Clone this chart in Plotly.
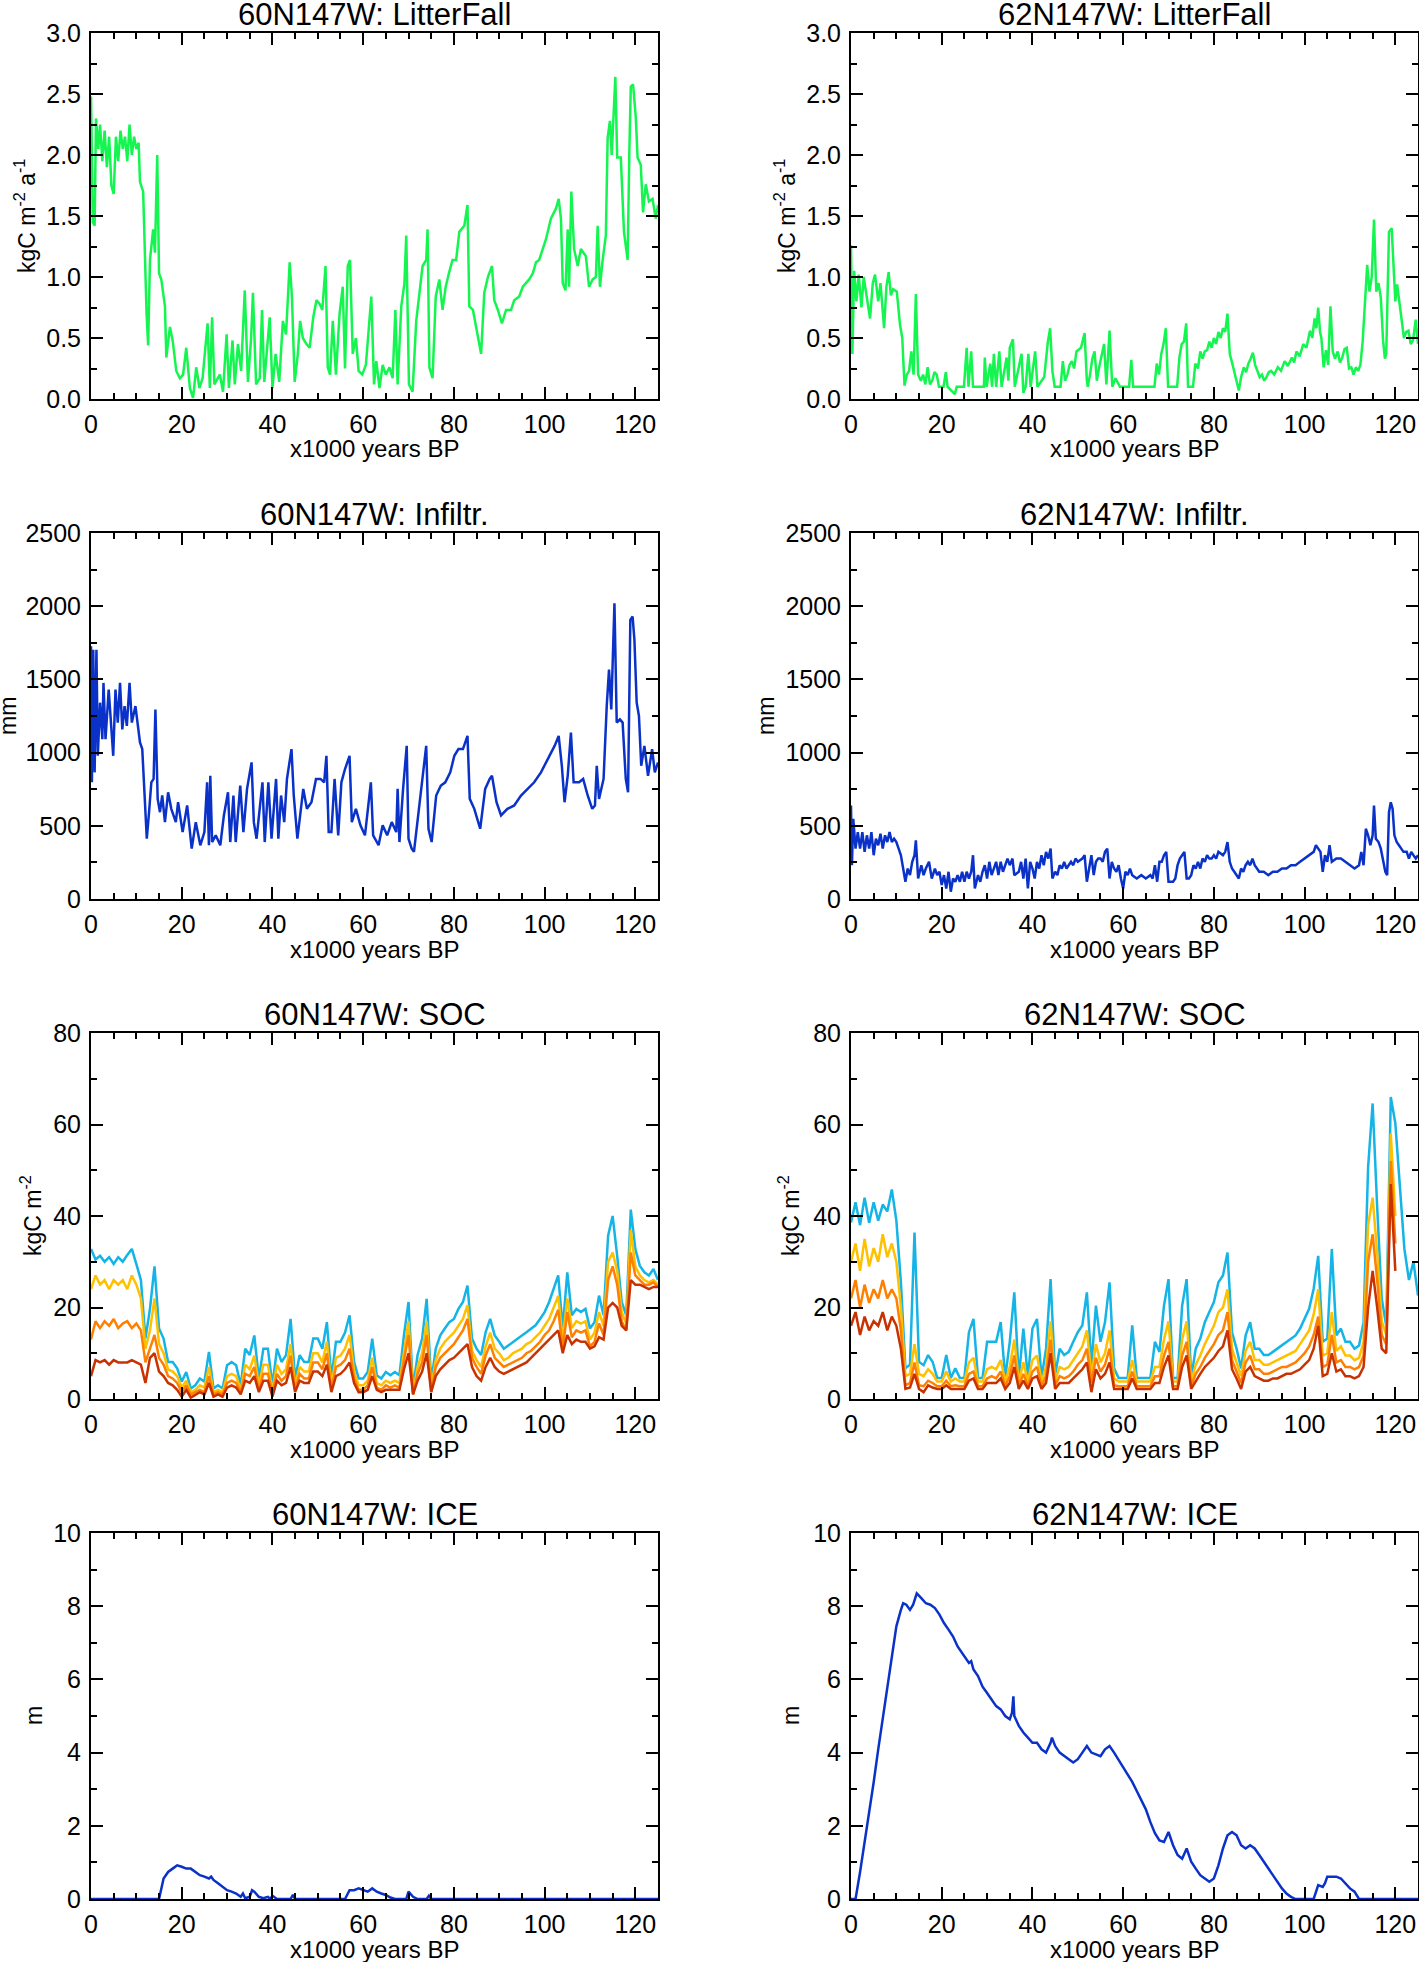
import plotly.graph_objects as go

FONT = "Liberation Sans, Arial, Helvetica, sans-serif"
W, H = 1419, 1962

GREEN = "#14f550"
BLUE = "#0a32c8"
SOC_COLORS = ["#14b4e6", "#ffc000", "#ff8000", "#c83200"]

# ---------------- data (x in 1000 years BP) ----------------
# litter fall, kgC m-2 a-1
lf60 = [(0, 2.48), (0.4, 1.45), (0.8, 1.42), (1.1, 2.30), (1.6, 2.05), (2.0, 2.25), (2.5, 1.95), (3.0, 2.2),
        (3.5, 1.9), (4.0, 2.15), (4.5, 1.75), (5.0, 1.68), (5.5, 2.15), (6.0, 1.95), (6.5, 2.2), (7.0, 2.05),
        (7.5, 2.15), (8.0, 1.95), (8.5, 2.25), (9.0, 2.0), (9.5, 2.15), (10.0, 2.05), (10.5, 2.1), (10.8, 1.78),
        (11.5, 1.70), (11.8, 1.23), (12.25, 0.70), (12.6, 0.44), (13.0, 1.14), (13.7, 1.39), (14.1, 1.20),
        (14.6, 2.0), (15.0, 1.03), (15.5, 0.98), (16.3, 0.76), (16.6, 0.34), (17.4, 0.59), (18.0, 0.48),
        (18.8, 0.23), (19.6, 0.17), (20.3, 0.20), (21.0, 0.42), (21.8, 0.09), (22.5, 0.01), (23.2, 0.26),
        (23.9, 0.09), (24.6, 0.17), (25.7, 0.62), (26.2, 0.09), (26.7, 0.67), (27.2, 0.12), (28.4, 0.20),
        (29.1, 0.06), (29.9, 0.53), (30.4, 0.09), (31.2, 0.48), (31.7, 0.12), (32.4, 0.45), (33.1, 0.23),
        (33.9, 0.89), (34.6, 0.14), (35.3, 0.50), (35.7, 0.87), (36.4, 0.12), (37.2, 0.17), (37.7, 0.73),
        (38.2, 0.14), (39.4, 0.67), (40.0, 0.09), (40.7, 0.37), (41.5, 0.14), (42.3, 0.64), (43.0, 0.53),
        (43.8, 1.12), (44.3, 0.84), (44.9, 0.14), (45.6, 0.37), (46.1, 0.64), (46.7, 0.50), (47.5, 0.45),
        (48.2, 0.42), (49.0, 0.67), (49.7, 0.81), (50.4, 0.78), (51.0, 0.73), (51.7, 1.09), (52.2, 0.26),
        (52.7, 0.20), (53.3, 0.64), (54.0, 0.20), (54.8, 0.70), (55.5, 0.92), (56.0, 0.25), (56.6, 1.09),
        (57.1, 1.14), (57.7, 0.37), (58.4, 0.50), (59.0, 0.23), (59.8, 0.2), (60.6, 0.28), (61.8, 0.84),
        (62.4, 0.12), (62.9, 0.31), (63.6, 0.09), (64.3, 0.28), (65.0, 0.2), (65.8, 0.26), (66.5, 0.17),
        (67.1, 0.73), (67.6, 0.12), (68.4, 0.76), (69.1, 0.95), (69.5, 1.34), (70.1, 0.12), (70.9, 0.06),
        (71.7, 0.64), (72.4, 0.87), (73.1, 1.09), (73.9, 1.14), (74.2, 1.39), (74.6, 0.26), (75.3, 0.17),
        (76.0, 0.84), (76.8, 0.98), (77.5, 0.73), (78.2, 0.92), (78.9, 1.03), (79.7, 1.14), (80.5, 1.14),
        (81.2, 1.37), (82.3, 1.42), (83.0, 1.59), (83.4, 0.76), (84.2, 0.73), (84.9, 0.59), (86.0, 0.37),
        (86.7, 0.87), (87.5, 1.0), (88.4, 1.09), (88.9, 0.81), (89.7, 0.73), (90.6, 0.62), (91.5, 0.73),
        (92.6, 0.73), (93.3, 0.81), (94.4, 0.84), (95.2, 0.92), (95.9, 0.95), (96.6, 0.98), (97.4, 1.03),
        (98.1, 1.12), (98.8, 1.14), (99.6, 1.23), (100.3, 1.31), (101.4, 1.48), (102.5, 1.56), (103.1, 1.64),
        (103.6, 1.48), (104.0, 0.95), (104.6, 0.89), (105.1, 1.39), (105.4, 0.92), (105.9, 1.70), (106.5, 1.23),
        (107.3, 1.09), (108.0, 1.23), (109.1, 1.17), (109.8, 0.92), (110.6, 0.98), (111.3, 1.0), (111.7, 1.42),
        (112.2, 0.92), (112.8, 1.14), (113.5, 1.34), (113.9, 2.14), (114.4, 2.28), (114.8, 2.0), (115.6, 2.64),
        (116.0, 1.98), (116.8, 1.98), (117.5, 1.37), (118.3, 1.14), (118.7, 2.06), (119.0, 2.56), (119.5, 2.58),
        (120.1, 2.31), (120.5, 1.98), (121.2, 1.92), (121.7, 1.53), (122.3, 1.76), (123.0, 1.62), (123.8, 1.64),
        (124.5, 1.48), (125.0, 1.59)]

lf62 = [(0.0, 1.26), (0.3, 0.37), (0.7, 1.05), (1.2, 0.80), (1.7, 1.02), (2.3, 0.75), (2.8, 1.0), (3.4, 0.85),
        (4.2, 0.66), (4.8, 0.95), (5.3, 1.02), (6.0, 0.80), (6.5, 0.95), (7.3, 0.58), (7.8, 0.92), (8.3, 1.04),
        (8.8, 0.85), (9.3, 0.90), (10.1, 0.88), (10.8, 0.61), (11.3, 0.50), (11.8, 0.11), (12.3, 0.20),
        (12.8, 0.23), (13.3, 0.39), (13.8, 0.20), (14.3, 0.86), (14.8, 0.20), (15.4, 0.15), (15.9, 0.20),
        (16.4, 0.12), (16.9, 0.26), (17.4, 0.12), (17.9, 0.15), (18.4, 0.22), (18.9, 0.20), (19.4, 0.10),
        (20.4, 0.10), (20.9, 0.22), (21.3, 0.10), (22.9, 0.04), (23.3, 0.10), (24.9, 0.10), (25.5, 0.42),
        (25.9, 0.10), (26.5, 0.39), (26.9, 0.10), (29.3, 0.10), (29.5, 0.34), (29.9, 0.10), (30.7, 0.29),
        (31.1, 0.10), (31.5, 0.37), (32.0, 0.10), (32.7, 0.39), (33.2, 0.10), (34.3, 0.34), (34.7, 0.15),
        (35.0, 0.42), (35.7, 0.49), (36.1, 0.10), (37.6, 0.37), (38.0, 0.05), (38.5, 0.10), (39.1, 0.37),
        (39.6, 0.10), (40.6, 0.39), (41.1, 0.10), (42.6, 0.18), (43.4, 0.47), (43.9, 0.58), (44.4, 0.23),
        (44.9, 0.10), (46.2, 0.10), (46.7, 0.31), (47.2, 0.15), (47.7, 0.20), (48.2, 0.28), (48.7, 0.31),
        (49.2, 0.25), (49.7, 0.39), (50.7, 0.42), (51.5, 0.54), (52.0, 0.15), (52.2, 0.10), (52.7, 0.20),
        (53.2, 0.33), (53.7, 0.39), (54.2, 0.15), (54.7, 0.26), (55.2, 0.35), (55.8, 0.45), (56.3, 0.12),
        (57.0, 0.56), (57.6, 0.10), (58.3, 0.17), (59.3, 0.10), (61.3, 0.10), (61.8, 0.32), (62.2, 0.10),
        (66.9, 0.10), (67.4, 0.29), (67.9, 0.20), (68.4, 0.37), (68.9, 0.45), (69.4, 0.58), (69.9, 0.10),
        (71.9, 0.10), (72.4, 0.34), (72.9, 0.45), (73.4, 0.47), (73.9, 0.62), (74.3, 0.10), (75.4, 0.10),
        (75.9, 0.29), (76.5, 0.25), (77.0, 0.39), (77.5, 0.33), (78.0, 0.39), (78.5, 0.40), (79.0, 0.47),
        (79.5, 0.42), (80.0, 0.50), (80.5, 0.45), (81.0, 0.55), (81.5, 0.50), (82.0, 0.58), (82.5, 0.55),
        (83.0, 0.70), (83.5, 0.37), (84.0, 0.30), (84.5, 0.23), (85.0, 0.15), (85.5, 0.07), (86.0, 0.18),
        (86.6, 0.26), (87.1, 0.22), (87.6, 0.29), (88.1, 0.33), (88.6, 0.38), (89.1, 0.28), (89.6, 0.23),
        (90.1, 0.18), (90.6, 0.20), (91.1, 0.15), (91.6, 0.18), (92.1, 0.22), (92.6, 0.23), (93.3, 0.20),
        (94.1, 0.26), (94.8, 0.23), (95.6, 0.31), (96.3, 0.27), (97.2, 0.34), (97.7, 0.30), (98.2, 0.39),
        (98.9, 0.35), (99.7, 0.45), (100.4, 0.42), (101.2, 0.56), (101.7, 0.50), (102.2, 0.66), (102.6, 0.58),
        (103.0, 0.75), (103.4, 0.55), (103.7, 0.50), (104.0, 0.30), (104.2, 0.26), (104.7, 0.40), (105.2, 0.28),
        (105.7, 0.76), (106.2, 0.39), (106.7, 0.33), (107.3, 0.39), (107.8, 0.30), (108.3, 0.34), (108.8, 0.41),
        (109.3, 0.42), (109.8, 0.25), (110.3, 0.26), (110.8, 0.20), (111.3, 0.26), (111.8, 0.23), (112.3, 0.28),
        (112.8, 0.47), (113.3, 0.83), (113.8, 1.10), (114.3, 0.88), (114.8, 1.00), (115.3, 1.47), (115.8, 0.88),
        (116.3, 0.95), (116.8, 0.83), (117.3, 0.48), (117.7, 0.33), (118.0, 0.37), (118.6, 1.37), (119.2, 1.40),
        (119.7, 1.02), (120.0, 0.80), (120.4, 0.94), (120.9, 0.80), (121.4, 0.64), (121.9, 0.50), (122.4, 0.55),
        (122.9, 0.56), (123.4, 0.45), (123.9, 0.48), (124.5, 0.65), (125.0, 0.45)]

# infiltration, mm
inf60 = [(0, 1726), (0.2, 797), (0.5, 1703), (0.8, 865), (1.2, 1703), (1.5, 978), (2.0, 1341), (2.5, 1091),
         (2.75, 1476), (3.2, 1091), (3.9, 1431), (4.4, 1205), (4.9, 978), (5.4, 1431), (5.9, 1205), (6.4, 1476),
         (6.9, 1159), (7.4, 1318), (7.9, 1182), (8.5, 1476), (9.0, 1205), (9.8, 1318), (10.3, 1205), (10.8, 1069),
         (11.3, 1024), (11.8, 752), (12.3, 412), (12.8, 593), (13.3, 797), (13.8, 820), (14.2, 1295), (14.7, 684),
         (15.2, 593), (15.7, 707), (16.3, 525), (17.0, 729), (17.7, 616), (18.7, 525), (19.2, 661), (20.2, 457),
         (21.2, 639), (22.2, 344), (23.1, 525), (24.1, 367), (25.0, 457), (25.6, 797), (26.0, 367), (26.3, 842),
         (26.7, 389), (27.5, 435), (28.5, 367), (29.3, 571), (30.2, 729), (30.7, 389), (31.4, 707), (31.9, 389),
         (32.9, 774), (33.6, 457), (34.4, 752), (35.4, 933), (35.9, 525), (36.5, 412), (37.8, 797), (38.3, 389),
         (39.1, 797), (39.8, 412), (40.8, 820), (41.3, 412), (41.9, 707), (42.6, 525), (43.2, 820), (44.2, 1024),
         (44.7, 707), (45.5, 412), (46.2, 616), (46.8, 752), (47.6, 616), (48.6, 661), (49.6, 820), (50.6, 820),
         (51.4, 797), (51.9, 978), (52.4, 457), (53.0, 457), (53.7, 820), (54.5, 435), (55.2, 797), (56.0, 888),
         (57.0, 978), (57.5, 525), (58.4, 616), (59.4, 503), (60.4, 435), (61.7, 797), (62.2, 435), (63.4, 367),
         (64.3, 503), (65.3, 435), (66.3, 525), (67.3, 457), (67.6, 752), (68.0, 389), (68.8, 752), (69.6, 1046),
         (70.0, 412), (70.7, 344), (71.2, 322), (72.2, 593), (73.2, 820), (73.9, 1046), (74.4, 480), (75.1, 389),
         (76.1, 707), (77.1, 774), (78.1, 797), (79.2, 865), (80.1, 978), (81.0, 1024), (82.0, 1024), (83.0, 1114),
         (83.5, 684), (84.5, 616), (85.8, 480), (86.9, 752), (87.9, 820), (88.4, 842), (89.4, 661), (90.4, 571),
         (91.8, 616), (93.3, 639), (94.8, 707), (96.3, 752), (97.7, 797), (99.2, 865), (100.7, 956), (102.2, 1046),
         (103.1, 1114), (103.8, 910), (104.4, 661), (105.1, 842), (105.8, 1137), (106.4, 797), (107.6, 797),
         (108.5, 820), (109.5, 707), (110.5, 616), (111.1, 639), (111.5, 910), (112.0, 684), (113.0, 820),
         (113.7, 1318), (114.2, 1567), (114.7, 1295), (115.4, 2020), (115.9, 1205), (116.6, 1227), (117.2, 1205),
         (117.9, 820), (118.4, 729), (118.9, 1907), (119.4, 1929), (119.8, 1771), (120.3, 1341), (120.8, 1250),
         (121.3, 910), (122.0, 1046), (122.8, 842), (123.7, 1024), (124.3, 865), (125.0, 933)]

inf62 = [(0, 639), (0.2, 231), (0.5, 548), (1, 344), (1.5, 457), (2, 344), (2.5, 457), (3, 322), (3.5, 435),
         (4, 344), (4.5, 457), (5, 299), (5.5, 412), (6, 367), (6.5, 446), (7, 344), (7.5, 435), (8, 389),
         (8.5, 457), (9, 389), (9.5, 412), (10, 389), (10.5, 344), (11, 299), (11.5, 208), (12, 118), (12.5, 208),
         (13, 163), (13.5, 254), (14, 299), (14.3, 401), (14.8, 140), (15.5, 231), (16, 163), (16.5, 208),
         (17.2, 254), (17.8, 140), (18.5, 208), (19, 163), (19.5, 186), (20, 95), (20.5, 163), (21, 72),
         (21.5, 186), (22, 50), (22.5, 140), (23, 118), (23.5, 163), (24, 118), (24.5, 186), (25, 118),
         (25.5, 186), (26, 140), (26.5, 186), (26.9, 299), (27.3, 72), (28, 163), (28.5, 118), (29, 186),
         (29.5, 231), (30, 140), (30.5, 254), (31, 163), (31.5, 208), (32, 254), (32.5, 163), (33, 254),
         (33.5, 186), (34, 231), (34.5, 276), (35, 231), (35.6, 276), (36, 163), (37, 186), (37.5, 254),
         (38, 140), (38.5, 276), (39, 72), (39.5, 254), (40, 208), (40.5, 140), (41, 254), (41.5, 208),
         (42, 299), (42.5, 231), (43, 322), (43.5, 276), (44, 344), (44.4, 140), (45, 186), (45.5, 163),
         (46, 231), (46.5, 208), (47, 254), (47.5, 208), (48, 231), (48.5, 254), (49, 231), (49.5, 276),
         (50, 254), (51, 276), (51.5, 299), (52, 118), (52.5, 208), (53, 299), (53.5, 163), (54, 254),
         (54.5, 276), (55, 276), (55.5, 254), (56, 322), (56.5, 344), (57, 140), (57.5, 254), (58, 208),
         (58.5, 186), (59, 231), (59.5, 140), (60, 72), (60.5, 186), (61, 163), (61.5, 208), (62, 163),
         (63, 140), (64, 163), (65, 140), (66, 163), (66.5, 140), (67, 231), (67.5, 118), (68, 254), (68.5, 254),
         (69, 299), (69.5, 322), (70, 118), (71, 118), (71.5, 140), (72, 231), (72.5, 276), (73, 299),
         (73.5, 322), (74, 140), (74.5, 140), (75, 163), (75.5, 231), (76, 208), (76.5, 254), (77, 208),
         (77.5, 276), (78, 254), (78.5, 299), (79, 276), (79.5, 276), (80, 299), (80.5, 276), (81, 322),
         (82, 299), (82.5, 322), (83, 389), (83.5, 254), (84, 208), (84.5, 186), (85, 163), (85.5, 140),
         (86, 208), (86.5, 186), (87, 231), (87.5, 254), (88, 231), (88.5, 276), (89, 231), (89.5, 208),
         (90, 186), (91, 186), (92, 163), (93, 186), (94, 186), (95, 208), (96, 208), (97, 231), (98, 231),
         (99, 254), (100, 276), (101, 299), (102, 322), (102.5, 367), (103, 344), (103.5, 322), (104, 186),
         (104.5, 299), (105, 254), (105.5, 367), (106, 254), (107, 276), (108, 276), (109, 254), (110, 231),
         (111, 208), (112, 231), (112.5, 322), (113, 231), (113.5, 480), (114, 435), (114.5, 367), (115, 435),
         (115.3, 639), (115.7, 412), (116.3, 389), (116.8, 344), (117.3, 254), (117.8, 186), (118.2, 163),
         (118.6, 593), (119, 661), (119.4, 616), (119.8, 435), (120.3, 389), (120.8, 367), (121.3, 344),
         (121.8, 322), (122.5, 322), (123, 276), (123.5, 322), (124, 299), (124.5, 276), (125, 299)]

# soil organic carbon, kgC m-2, one value per 1000 years from 0 BP
soc_x = list(range(0, 126))

soc60_cyan = [32.8, 30.5, 31.3, 30.0, 31.0, 29.5, 31.0, 30.0, 31.5, 32.8, 29.5, 26.0, 13.2, 19.7, 29.0, 15.4,
              13.2, 8.1, 8.1, 6.7, 3.8, 5.9, 2.3, 3.0, 4.5, 3.8, 10.3, 2.3, 3.0, 2.3, 7.4, 8.1, 7.4, 3.0, 11.0,
              9.6, 13.9, 4.5, 11.0, 11.0, 3.0, 11.0, 8.1, 9.6, 17.5, 4.5, 9.6, 8.1, 8.1, 13.2, 13.2, 11.0, 16.8,
              4.5, 12.5, 12.5, 14.5, 18.3, 8.1, 4.5, 4.5, 5.9, 13.2, 5.2, 4.5, 5.9, 5.2, 5.9, 5.2, 14.0, 21.2, 2.3,
              9.6, 13.2, 21.9, 3.8, 11.0, 13.9, 15.4, 16.8, 17.5, 19.7, 21.2, 24.8, 13.2, 11.0, 9.6, 14.6, 17.5,
              13.9, 12.5, 11.0, 11.7, 12.5, 13.2, 13.9, 14.6, 15.4, 16.1, 17.5, 19.0, 21.2, 24.1, 27.0, 15.4, 27.7,
              18.3, 19.7, 19.0, 19.7, 15.4, 16.8, 22.6, 18.3, 35.7, 40.0, 31.3, 21.2, 18.3, 41.4, 32.8, 29.1, 27.7,
              27.0, 28.4, 26.0]
soc60_yellow = [24, 27, 25, 26, 24, 26, 25, 26, 24, 27, 25, 22, 11, 15, 22, 12, 10, 6.5, 6, 5, 2.5, 4, 1.5, 2,
                3, 2.5, 7, 1.5, 2, 1.5, 5, 5.5, 5, 2, 7.5, 6.5, 9.5, 3, 7.5, 7.5, 2, 7.5, 5.5, 6.5, 12, 3, 7, 6, 6,
                10, 10, 8, 12.5, 3, 9, 9.5, 11, 14, 6, 3, 3, 4, 9, 3.5, 3, 4, 3.5, 4, 3.5, 10.5, 17, 1.5, 7, 10,
                17, 2.5, 8.5, 11, 12.5, 13.5, 14.5, 16, 17.5, 20.5, 10.5, 8.5, 7, 11.5, 14.5, 11, 10, 8.5, 9, 10,
                10.5, 11, 12, 12.5, 13.5, 14.5, 16, 17.5, 20, 22.5, 13, 22, 15.5, 17, 16.5, 17, 13, 14.5, 19, 16,
                30, 32, 28, 19, 16.5, 37, 29, 27, 26, 25.5, 26, 25]
soc60_orange = [13, 17, 15.5, 17, 16, 17.5, 15.5, 16.5, 17, 15.5, 16.5, 15, 8, 11, 14, 9, 7.5, 5, 4.5, 3.5, 1.5,
                3, 1, 1.5, 2, 1.5, 5, 1, 1.5, 1, 3.5, 4, 3.5, 1.5, 5.5, 5, 7, 2, 5.5, 5.5, 1.5, 5.5, 4, 5, 9.5,
                2, 5.5, 4.5, 4.5, 8, 8, 6.5, 10, 2, 7, 7.5, 8.5, 11, 4.5, 2, 2, 3, 7, 2.5, 2, 3, 2.5, 3, 2.5,
                8.5, 14, 1, 5.5, 8, 14, 1.5, 7, 9, 10, 11, 12, 13.5, 15, 17.5, 9, 7, 5.5, 9.5, 12, 9, 8, 7, 7.5,
                8, 8.5, 9, 10, 10.5, 11.5, 12.5, 14, 15, 17, 19.5, 11, 19, 13.5, 15, 14.5, 15, 11.5, 12.5, 16.5,
                14, 26, 29, 25, 17, 15, 32, 27, 26, 25, 25, 25.5, 24.5]
soc60_red = [5, 8.5, 8, 8.5, 7.5, 8.5, 8, 8, 8, 8.5, 8, 7.5, 3.5, 9, 10, 6, 5, 3.5, 3, 2, 0.5, 2, 0.3, 1, 1.5,
             1, 3.5, 0.5, 1, 0.5, 2.5, 3, 2.5, 1, 4, 3.5, 5, 1.5, 4, 4, 0.5, 4, 3, 3.5, 7, 1.5, 4, 3.5, 3.5, 6,
             6, 5, 7.5, 1.5, 5, 5.5, 6.5, 8, 3.5, 1.5, 1.5, 2, 5, 2, 1.5, 2, 2, 2, 2, 6.5, 10, 1, 4, 6, 10, 1.5,
             5, 6.5, 7.5, 8.5, 9, 10, 11, 12, 7, 5, 4, 7, 9, 7, 6, 5.5, 6, 6.5, 7, 7.5, 8, 9, 10, 11, 12, 13, 14,
             15, 10, 14, 12, 13, 12.5, 12.5, 11, 11.5, 13.5, 13, 20, 21, 20, 16, 15, 26, 25, 25, 24.5, 24, 24.5,
             24.5]

soc62_cyan = [38.6, 43, 38, 44, 38.5, 43, 39, 42.5, 41, 45.8, 39, 25.5, 6.7, 7.5, 36.4, 8.1, 7.4, 9.6, 8.1, 4.6,
              4.6, 9.6, 4.6, 6.7, 4.6, 4.6, 14.6, 17.5, 4.6, 4.6, 12.5, 12.5, 12.5, 16.8, 4.6, 12.5, 23.3, 4.6,
              15.4, 4.6, 15.4, 17.5, 4.6, 11.0, 26.2, 5.2, 11.0, 9.6, 10.3, 12.5, 14.6, 16.1, 23.3, 7.4, 20.4, 12.5,
              16.8, 25.5, 6.7, 4.6, 4.6, 4.6, 16.1, 4.6, 4.6, 4.6, 4.6, 12.5, 10.3, 20.4, 26.2, 4.6, 4.6, 20.4,
              26.2, 4.6, 11.0, 13.2, 16.8, 19.0, 21.2, 25.5, 27.0, 32.0, 14.6, 11.0, 6.7, 13.9, 16.8, 11.0, 11.0,
              9.6, 9.6, 10.3, 11.0, 11.7, 12.5, 13.2, 13.9, 15.4, 17.5, 19.7, 24.1, 31.3, 12.5, 13.2, 32.8, 13.9,
              15.4, 12.5, 12.5, 11.0, 11.7, 16.8, 50.7, 64.6, 42.0, 22.0, 16.0, 66.0, 60.3, 45.8, 32.8, 26.0, 30.0,
              22.6]
soc62_yellow = [30, 34, 28, 35, 29, 33, 30, 36, 31, 34, 30, 20, 5, 5.5, 12, 5.5, 5, 6.5, 5.5, 3.8, 3.8, 6, 3.8,
                4.5, 3.8, 3.8, 8, 9, 3.8, 3.8, 6.5, 7, 6.5, 8.5, 3.8, 7, 13, 3.8, 8, 3.8, 8.5, 9.5, 3.8, 7, 17, 4,
                7, 6.5, 7, 8.5, 10, 11.5, 15, 5, 12, 8, 10, 15, 4.5, 3.8, 3.8, 3.8, 8.5, 3.8, 3.8, 3.8, 3.8, 7, 7,
                13, 17, 3.8, 3.8, 13, 17, 3.8, 7.5, 9.5, 12, 14, 16, 19, 20, 24, 11, 8, 5, 10.5, 12.5, 8.5, 8.5,
                7.5, 7.5, 8, 8.5, 9, 9.5, 10, 10.5, 12, 13.5, 15, 18.5, 24, 9.5, 10, 19, 10.5, 11.5, 9.5, 9.5,
                8.5, 9, 12.5, 38, 44, 32, 17, 14, 58, 40]
soc62_orange = [22, 26, 20, 25, 21, 24, 22, 26, 22, 24, 22, 15, 3, 3.5, 8, 3, 2.8, 4, 3.5, 2.8, 2.8, 4, 2.8, 3,
                2.8, 2.8, 5.5, 6, 2.8, 2.8, 4.5, 5, 4.5, 6, 2.8, 5, 9.5, 2.8, 5.5, 2.8, 6, 7, 2.8, 5, 13, 3, 5,
                4.5, 5, 6, 7.5, 8.5, 11, 3.5, 9, 6, 7.5, 11, 3, 2.8, 2.8, 2.8, 6, 2.8, 2.8, 2.8, 2.8, 5, 5, 9.5,
                12.5, 2.8, 2.8, 9.5, 12.5, 2.8, 5.5, 7, 9, 10.5, 12, 14, 15, 19, 8.5, 6, 3.5, 8, 9.5, 6.5, 6.5,
                5.5, 5.5, 6, 6.5, 7, 7, 7.5, 8, 9, 10, 11.5, 14, 18, 7, 7.5, 14, 8, 8.5, 7, 7, 6.5, 7, 9.5, 30,
                36, 26, 14, 12, 52, 34]
soc62_red = [16, 19, 14, 18, 15, 17, 16, 19, 15, 18, 16, 11, 2.2, 2.5, 5.5, 2.2, 1.5, 3, 2.5, 2.2, 2.2, 3, 2.2,
             2.2, 2.2, 2.2, 4, 4.5, 2.2, 2.2, 3.5, 3.5, 3.5, 4.5, 2.2, 3.5, 7, 2.2, 4, 2.2, 4.5, 5, 2.2, 3.5, 10,
             2.2, 3.5, 3.5, 3.5, 4.5, 5.5, 6.5, 8, 1.5, 6.5, 4.5, 5.5, 8, 2.2, 2.2, 2.2, 2.2, 4.5, 2.2, 2.2, 2.2,
             2.2, 3.5, 3.5, 7, 9.5, 2.2, 2.2, 7, 9.5, 2.2, 4, 5.5, 7, 8, 9, 10.5, 11.5, 15, 6.5, 4.5, 2.2, 6, 7,
             5, 4.5, 4, 4, 4.5, 4.5, 5, 5.5, 5.5, 6, 6.5, 7.5, 8.5, 11, 16, 5, 5.5, 10, 6, 6.5, 5, 5, 4.5, 5, 7,
             20, 28, 20, 11, 10, 47, 28]

# ice thickness, m
ice60 = [(0, 0), (15, 0), (16, 0.56), (17, 0.74), (18, 0.83), (19, 0.92), (20, 0.88), (21, 0.83), (22, 0.83),
         (23, 0.74), (24, 0.65), (25, 0.61), (26, 0.56), (26.5, 0.61), (27, 0.52), (28, 0.43), (29, 0.34),
         (30, 0.24), (31, 0.2), (32, 0.15), (33, 0.06), (33.5, 0.15), (34, 0.02), (35, 0.06), (35.5, 0.24),
         (36, 0.2), (37, 0.06), (38, 0.02), (39, 0.06), (39.5, 0), (40, 0.09), (41, 0), (44, 0), (44.5, 0.11),
         (45, 0), (56, 0), (57, 0.24), (58, 0.24), (59, 0.29), (60, 0.24), (61, 0.2), (62, 0.29), (63, 0.2),
         (64, 0.15), (65, 0.11), (66, 0.04), (67, 0), (69.5, 0), (70, 0.2), (71, 0.06), (72, 0), (74, 0),
         (74.5, 0.09), (75, 0), (125, 0)]

ice62 = [(0, 0), (1, 0), (2, 0.74), (3, 1.56), (4, 2.28), (5, 3.19), (6, 4.09), (7, 4.91), (8, 5.72), (9, 6.63),
         (10, 7.45), (11, 7.9), (11.5, 8.08), (12.2, 8.04), (13, 7.9), (13.7, 8.04), (14.5, 8.35), (15.5, 8.22),
         (16.5, 8.08), (17.5, 8.04), (18.5, 7.95), (19.5, 7.77), (20.5, 7.54), (21.5, 7.36), (22.5, 7.17),
         (23.5, 6.9), (24.5, 6.72), (25.5, 6.54), (26, 6.45), (26.5, 6.5), (27, 6.27), (28, 6.09), (29, 5.8),
         (30, 5.63), (31, 5.45), (32, 5.27), (33, 5.18), (34, 5.0), (35, 4.91), (35.5, 5.09), (35.8, 5.54),
         (36, 5.0), (37, 4.73), (38, 4.55), (39, 4.41), (40, 4.27), (41, 4.27), (42, 4.09), (43, 4.0),
         (44, 4.27), (44.3, 4.41), (45, 4.18), (46, 4.0), (47, 3.9), (48, 3.82), (49, 3.73), (50, 3.82),
         (51, 4.0), (52, 4.18), (53, 4.0), (54, 3.95), (55, 3.9), (56, 4.09), (57, 4.18), (58, 4.0), (59, 3.8),
         (60, 3.6), (61, 3.4), (62, 3.2), (63, 2.95), (64, 2.7), (65, 2.45), (66, 2.1), (67, 1.8), (68, 1.6),
         (69, 1.56), (70, 1.83), (71, 1.47), (72, 1.2), (73, 1.1), (74, 1.38), (75, 1.02), (76, 0.83),
         (77, 0.65), (78, 0.56), (79, 0.47), (80, 0.56), (81, 0.92), (82, 1.38), (83, 1.74), (84, 1.83),
         (85, 1.74), (86, 1.47), (87, 1.38), (88, 1.47), (89, 1.38), (90, 1.2), (91, 1.02), (92, 0.83),
         (93, 0.65), (94, 0.47), (95, 0.29), (96, 0.15), (97, 0.06), (98, 0), (102, 0), (103, 0.38),
         (104, 0.33), (104.5, 0.43), (105, 0.61), (106, 0.61), (107, 0.61), (108, 0.56), (109, 0.43),
         (110, 0.29), (111, 0.2), (112, 0), (125, 0)]

x_ticks = [0, 20, 40, 60, 80, 100, 120]


def pts(series):
    xs, ys = zip(*series)
    return list(xs), list(ys)


def grid(values):
    return soc_x[:len(values)], values


# ---------------- layout of the 4x2 panel grid (pixels) ----------------
col_px = [(91, 658), (851, 1418)]
row_px = [(33, 399), (533, 899), (1033, 1399), (1533, 1899)]

LF_UNIT = "kgC m<sup>-2</sup> a<sup>-1</sup>"
SOC_UNIT = "kgC m<sup>-2</sup>"

panels = [
    dict(r=0, c=0, title="60N147W: LitterFall", ylab=LF_UNIT, yoff=66, yr=[0, 3], dt=0.5, mdt=0.25, fmt=".1f",
         lines=[(pts(lf60), GREEN)]),
    dict(r=0, c=1, title="62N147W: LitterFall", ylab=LF_UNIT, yoff=66, yr=[0, 3], dt=0.5, mdt=0.25, fmt=".1f",
         lines=[(pts(lf62), GREEN)]),
    dict(r=1, c=0, title="60N147W: Infiltr.", ylab="mm", yoff=83, yr=[0, 2500], dt=500, mdt=250, fmt="d",
         lines=[(pts(inf60), BLUE)]),
    dict(r=1, c=1, title="62N147W: Infiltr.", ylab="mm", yoff=85, yr=[0, 2500], dt=500, mdt=250, fmt="d",
         lines=[(pts(inf62), BLUE)]),
    dict(r=2, c=0, title="60N147W: SOC", ylab=SOC_UNIT, yoff=60, yr=[0, 80], dt=20, mdt=10, fmt="d",
         lines=[(grid(soc60_cyan), SOC_COLORS[0]), (grid(soc60_yellow), SOC_COLORS[1]),
                (grid(soc60_orange), SOC_COLORS[2]), (grid(soc60_red), SOC_COLORS[3])]),
    dict(r=2, c=1, title="62N147W: SOC", ylab=SOC_UNIT, yoff=62, yr=[0, 80], dt=20, mdt=10, fmt="d",
         lines=[(grid(soc62_cyan), SOC_COLORS[0]), (grid(soc62_yellow), SOC_COLORS[1]),
                (grid(soc62_orange), SOC_COLORS[2]), (grid(soc62_red), SOC_COLORS[3])]),
    dict(r=3, c=0, title="60N147W: ICE", ylab="m", yoff=57, yr=[0, 10], dt=2, mdt=1, fmt="d",
         lines=[(pts(ice60), BLUE)]),
    dict(r=3, c=1, title="62N147W: ICE", ylab="m", yoff=60, yr=[0, 10], dt=2, mdt=1, fmt="d",
         lines=[(pts(ice62), BLUE)]),
]

fig = go.Figure()
annotations = []
axes = {}

for n, p in enumerate(panels, start=1):
    x0, x1 = col_px[p["c"]]
    top, bot = row_px[p["r"]]
    suffix = "" if n == 1 else str(n)

    for (xs, ys), color in p["lines"]:
        fig.add_trace(go.Scatter(
            x=xs, y=ys, mode="lines",
            line=dict(color=color, width=2.5),
            xaxis="x" + suffix, yaxis="y" + suffix,
            hoverinfo="skip", showlegend=False
        ))

    common = dict(
        showline=True, linecolor="black", linewidth=2, mirror="ticks",
        ticks="inside", ticklen=12, tickwidth=2, tickcolor="black",
        showgrid=False, zeroline=False, automargin=False,
        tickfont=dict(family=FONT, size=25, color="black"),
    )
    axes["xaxis" + suffix] = dict(
        common, domain=[x0 / W, x1 / W], anchor="y" + suffix,
        range=[0, 125], tickvals=x_ticks, ticklabelstandoff=2,
        minor=dict(dtick=5, tick0=0, ticks="inside", ticklen=6, tickwidth=2, tickcolor="black"),
    )
    axes["yaxis" + suffix] = dict(
        common, domain=[1 - bot / H, 1 - top / H], anchor="x" + suffix,
        range=p["yr"], dtick=p["dt"], tick0=0, tickformat=p["fmt"], ticklabelstandoff=3,
        minor=dict(dtick=p["mdt"], tick0=0, ticks="inside", ticklen=6, tickwidth=2, tickcolor="black"),
    )

    xc = (x0 + x1) / 2 / W
    annotations.append(dict(
        text=p["title"], x=xc, y=1 - top / H, xref="paper", yref="paper",
        xanchor="center", yanchor="middle", yshift=19, showarrow=False,
        font=dict(family=FONT, size=31, color="black")
    ))
    annotations.append(dict(
        text="x1000 years BP", x=xc, y=1 - bot / H, xref="paper", yref="paper",
        xanchor="center", yanchor="middle", yshift=-50, showarrow=False,
        font=dict(family=FONT, size=24, color="black")
    ))
    annotations.append(dict(
        text=p["ylab"], x=(x0 - p["yoff"]) / W, y=1 - (top + bot) / 2 / H, xref="paper", yref="paper",
        xanchor="center", yanchor="middle", textangle=-90, showarrow=False,
        font=dict(family=FONT, size=23, color="black")
    ))

fig.update_layout(
    width=W, height=H,
    margin=dict(l=0, r=0, t=0, b=0, pad=0),
    plot_bgcolor="white", paper_bgcolor="white",
    showlegend=False,
    font=dict(family=FONT, color="black"),
    annotations=annotations,
    **axes
)

# the page body keeps its default 8px margin otherwise
fig.write_html(
    "out.html",
    config={"displayModeBar": False},
    post_script="document.body.style.margin = '0px';",
)
